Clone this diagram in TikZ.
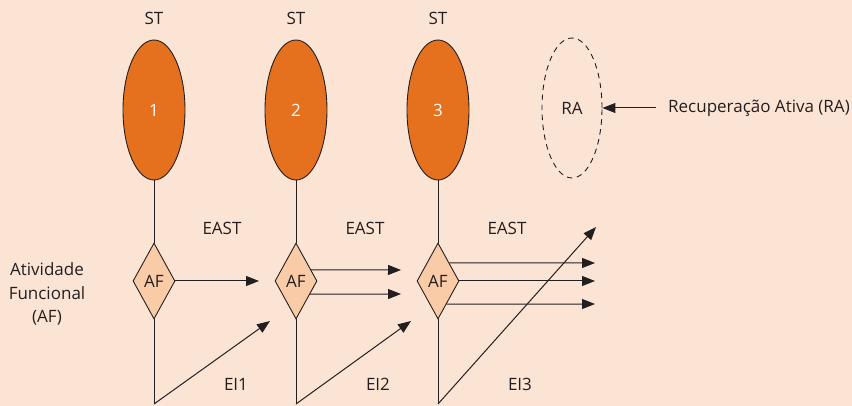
\documentclass[tikz,border=0pt]{standalone}
\usepackage{fontspec}
\setmainfont{Open Sans}
\usetikzlibrary{shapes.geometric,arrows.meta,calc}
\definecolor{bgc}{HTML}{FCE4D5}
\definecolor{ovalc}{HTML}{E5701E}
\definecolor{diac}{HTML}{F9CBA7}
\definecolor{linec}{HTML}{231F20}
\begin{document}
\begin{tikzpicture}[x=1pt,y=-1pt,
  font=\fontsize{17}{20}\selectfont,
  txt/.style={text=linec,inner sep=0pt},
  oval/.style={ellipse,draw=linec,fill=ovalc,line width=0.9pt,minimum width=62pt,minimum height=140pt,inner sep=0pt,text=white},
  raoval/.style={ellipse,draw=linec,dashed,dash pattern=on 5.5pt off 4.5pt,line width=0.9pt,minimum width=60pt,minimum height=140pt,inner sep=0pt,text=linec},
  afbox/.style={diamond,draw=linec,fill=diac,line width=0.9pt,minimum width=42pt,minimum height=76pt,aspect=0.55,inner sep=0pt,text=linec},
  conn/.style={draw=linec,line width=1pt},
  arr/.style={conn,-{Triangle[length=13pt,width=10pt]}}]
\fill[bgc] (0,0) rectangle (852,406);
\useasboundingbox (0,0) rectangle (852,406);
% ovals
\node[oval] (e1) at (154,110) {1};
\node[oval] (e2) at (296,110) {2};
\node[oval] (e3) at (438,110) {3};
\node[raoval] (ra) at (572,108) {RA};
\node[txt] (st1) at (154,18) {ST};
\node[txt] (st2) at (296,18) {ST};
\node[txt] (st3) at (438,18) {ST};
% diamonds
\node[afbox] (d1) at (154,281) {AF};
\node[afbox] (d2) at (296,281) {AF};
\node[afbox] (d3) at (438,281) {AF};
% labels
\node[txt] (east1) at (222,228) {EAST};
\node[txt] (east2) at (365,228) {EAST};
\node[txt] (east3) at (507,228) {EAST};
\node[txt] (ei1) at (236,384) {EI1};
\node[txt] (ei2) at (378,384) {EI2};
\node[txt] (ei3) at (520,384) {EI3};
\node[txt,align=center,font=\fontsize{17}{23.5}\selectfont] (afl) at (47,294) {Atividade\\Funcional\\(AF)};
\node[txt,anchor=west] (ral) at (668,108) {Recuperação Ativa (RA)};
% coordinates
\coordinate (b1) at (154,404);
\coordinate (b2) at (296,404);
\coordinate (b3) at (438,404);
\coordinate (t1) at (259,281);
\coordinate (t2a) at (401,270);
\coordinate (t2b) at (401,294);
\coordinate (t3a) at (595,263);
\coordinate (t3b) at (595,281);
\coordinate (t3c) at (595,304);
\coordinate (g1) at (270,321);
\coordinate (g2) at (411,321);
\coordinate (g3) at (596,227);
\coordinate (rs) at (656,108);
% connectors
\foreach \i in {1,2,3} {
  \draw[conn] (e\i.south) -- (d\i.north);
  \draw[conn] (d\i.south) -- (b\i);
}
\draw[arr] (d1.east) -- (t1);
\draw[arr] ($(d2.east)!0.29!(d2.north)$) -- (t2a);
\draw[arr] ($(d2.east)!0.34!(d2.south)$) -- (t2b);
\draw[arr] ($(d3.east)!0.47!(d3.north)$) -- (t3a);
\draw[arr] (d3.east) -- (t3b);
\draw[arr] ($(d3.east)!0.6!(d3.south)$) -- (t3c);
\draw[arr] (b1) -- (g1);
\draw[arr] (b2) -- (g2);
\draw[arr] (b3) -- (g3);
\draw[arr] (rs) -- (ra.east);
\end{tikzpicture}
\end{document}
